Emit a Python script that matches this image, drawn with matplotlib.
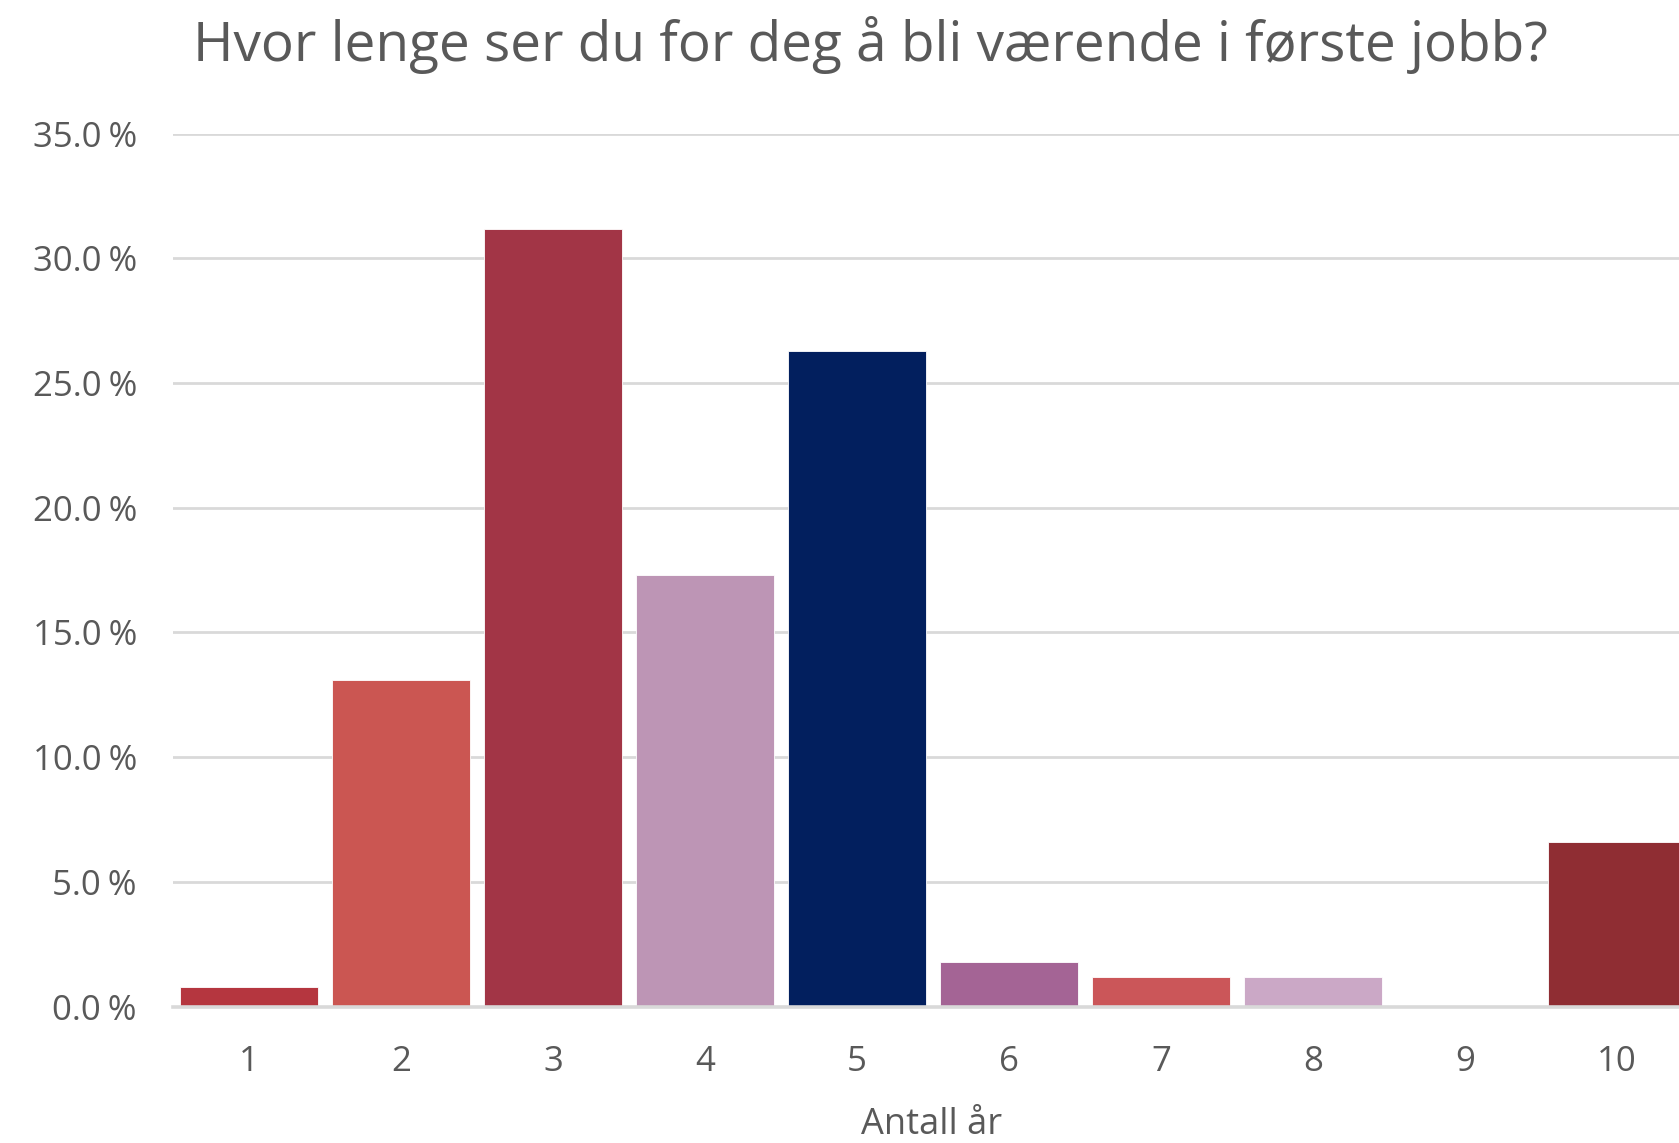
import matplotlib
matplotlib.use("Agg")
import matplotlib.pyplot as plt
from matplotlib.ticker import FuncFormatter

# Survey answers: expected years in first job (share of respondents)
years = ["1", "2", "3", "4", "5", "6", "7", "8", "9", "10"]
shares = [0.008, 0.131, 0.312, 0.173, 0.263, 0.018, 0.012, 0.012, 0.0, 0.066]
bar_colors = ["#B5363F", "#CB5652", "#A23546", "#BD95B5", "#021F5E",
              "#A46495", "#CB5659", "#CBA8C6", "#CBA8C6", "#8F2D33"]

title = "Hvor lenge ser du for deg å bli værende i første jobb?"
xlabel = "Antall år"

plt.rcParams["font.family"] = ["Open Sans", "DejaVu Sans"]
text_color = "#595959"
grid_color = "#D9D9D9"

W, H = 1679, 1143
fig = plt.figure(figsize=(W / 100, H / 100), dpi=100)
left, right_px = 173, 1693
bottom_px, top_px = 1006.5, 133.8
ax = fig.add_axes([left / W, (H - bottom_px) / H,
                   (right_px - left) / W, (bottom_px - top_px) / H])

x = list(range(len(years)))
ax.bar(x, shares, width=0.91, color=bar_colors, edgecolor="white",
       linewidth=0.6, zorder=3)

ax.set_xlim(-0.5, len(years) - 0.5)
ax.set_ylim(0, 0.35)
ax.set_yticks([i * 0.05 for i in range(8)])
ax.yaxis.set_major_formatter(FuncFormatter(lambda v, p: f"{v * 100:.1f}\u202f%"))
ax.set_xticks(x)
ax.set_xticklabels(years)

ax.grid(axis="y", color=grid_color, linewidth=2.0, zorder=0)
ax.set_axisbelow(True)
for s in ["top", "right", "left"]:
    ax.spines[s].set_visible(False)
ax.spines["bottom"].set_color(grid_color)
ax.spines["bottom"].set_linewidth(2.6)
ax.spines["bottom"].set_zorder(4)

ax.tick_params(axis="both", length=0, labelsize=25, labelcolor=text_color)
ax.tick_params(axis="y", pad=26)
ax.tick_params(axis="x", pad=28)
for lbl in ax.get_yticklabels():
    lbl.set_horizontalalignment("right")

fig.text(932 / W, 1 - 1125 / H, xlabel, ha="center", va="center",
         fontsize=26, color=text_color)

fig.text(870 / W, 1 - 45 / H, title, ha="center", va="center",
         fontsize=39.5, color=text_color)

fig.savefig("out.png", dpi=100, facecolor="white")
